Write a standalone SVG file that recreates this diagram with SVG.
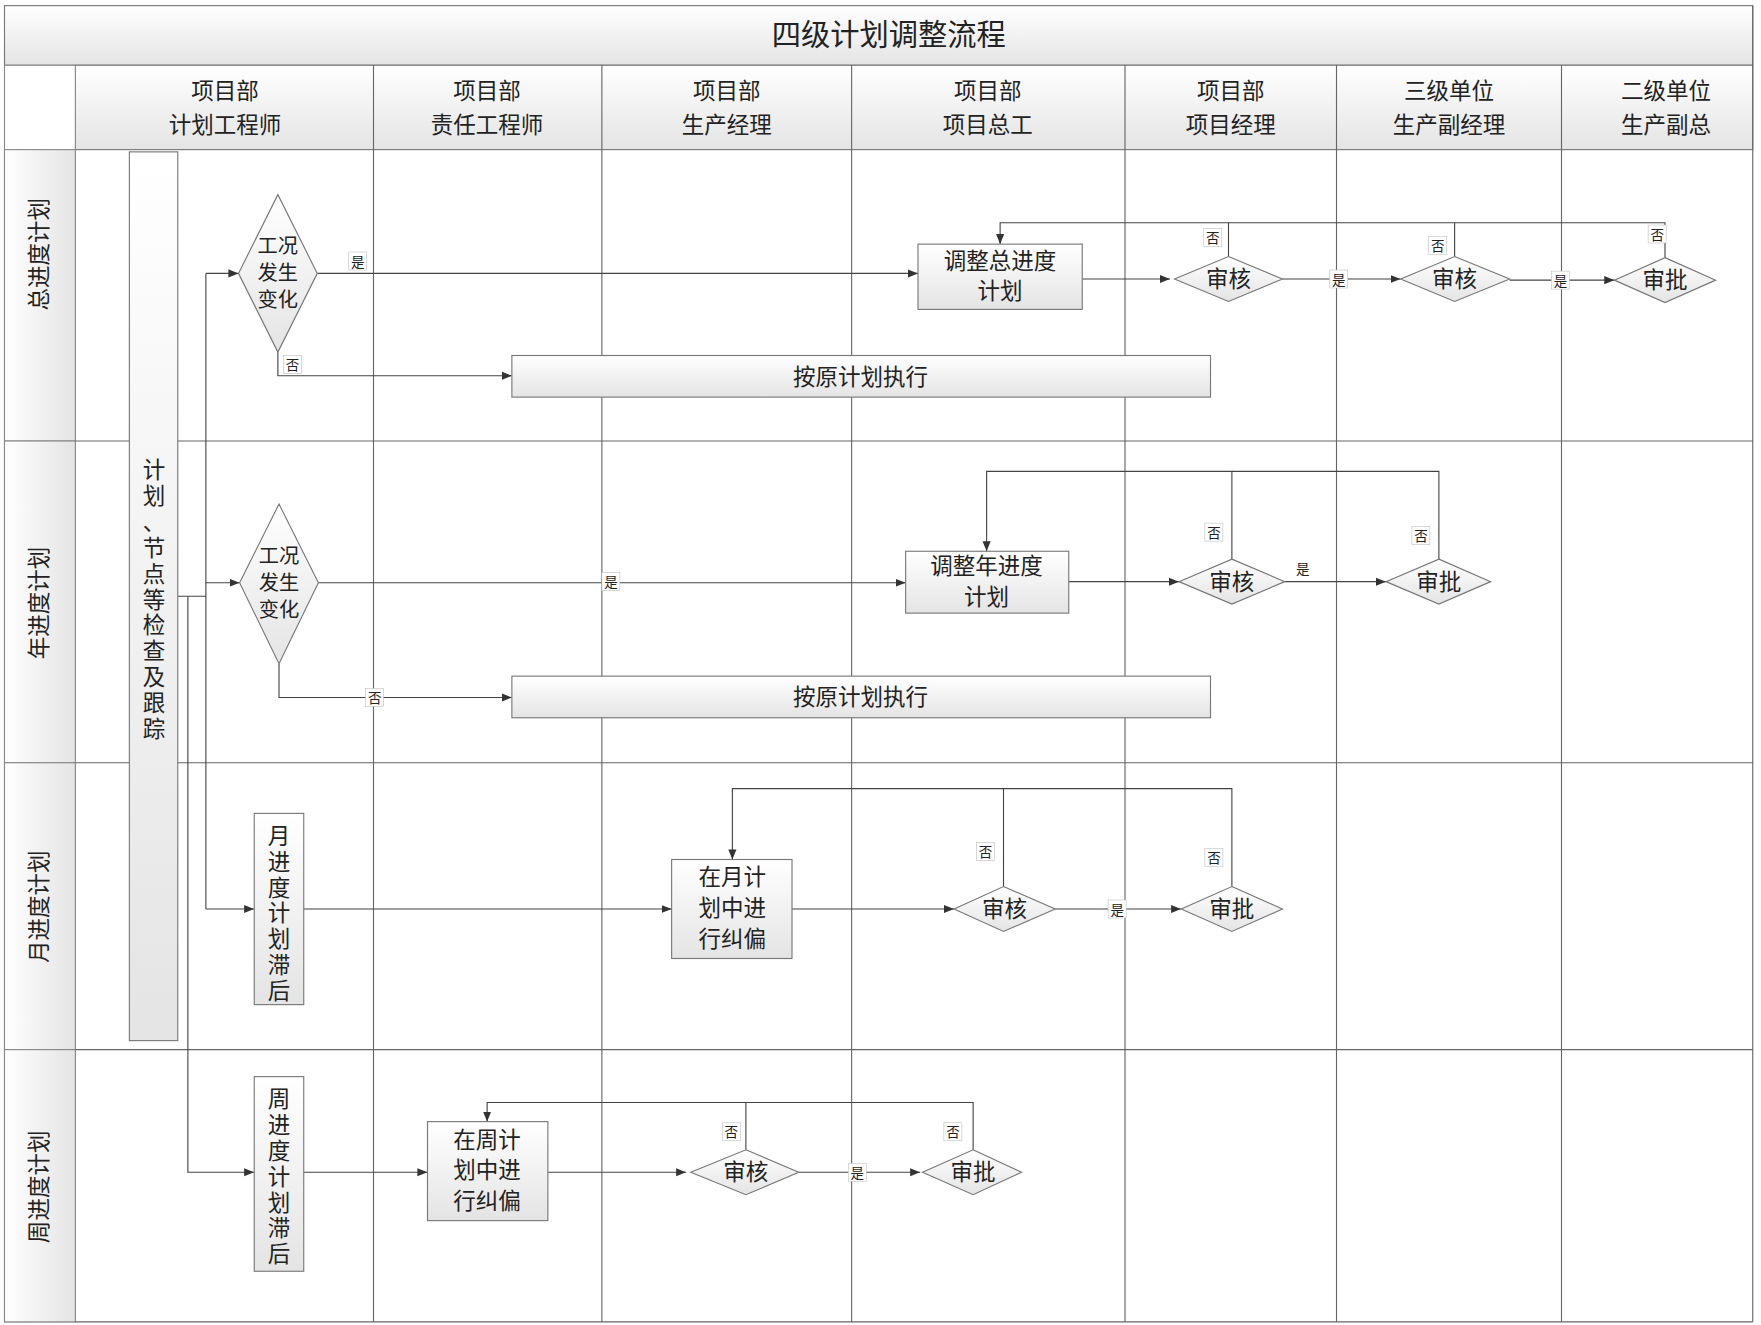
<svg xmlns="http://www.w3.org/2000/svg" width="1761" height="1325" viewBox="0 0 1761 1325">
<defs>
<linearGradient id="g" x1="0" y1="0" x2="0" y2="1"><stop offset="0" stop-color="#ffffff"/><stop offset="1" stop-color="#e4e4e4"/></linearGradient>
<linearGradient id="gh" x1="0" y1="0" x2="1" y2="0"><stop offset="0" stop-color="#ffffff"/><stop offset="1" stop-color="#e4e4e4"/></linearGradient>
<marker id="a" viewBox="0 0 10 10" refX="10" refY="5" markerWidth="9" markerHeight="9" orient="auto" markerUnits="userSpaceOnUse"><path d="M0,1 L10,5 L0,9 z" fill="#333"/></marker>
<style>
text{font-family:"Liberation Serif","Noto Sans CJK SC",serif;fill:#222}
.grid{stroke:#666;stroke-width:1;fill:none}
.box{fill:url(#g);stroke:#777;stroke-width:1}
.lane{fill:url(#gh);stroke:#888;stroke-width:1}
.c{stroke:#444;stroke-width:1;fill:none}
.ar{marker-end:url(#a)}
.t{font-size:20px;text-anchor:middle}
.s{font-size:12px;text-anchor:middle}
.lb{fill:#fff;stroke:#bbb;stroke-width:0.5}
</style>
</defs>
<rect width="1761" height="1325" fill="#fff"/>
<g transform="scale(1.125)">
<g id="frame">
<rect x="4" y="5" width="1554" height="53" class="box"/>
<text x="790" y="40" style="font-size:26px;text-anchor:middle">四级计划调整流程</text>
<rect x="67" y="58" width="1491" height="75" class="box"/>
<rect x="4" y="58" width="63" height="1117" fill="#fff" stroke="#888"/>
<rect x="4" y="133" width="63" height="259" class="lane"/>
<rect x="4" y="392" width="63" height="286" class="lane"/>
<rect x="4" y="678" width="63" height="255" class="lane"/>
<rect x="4" y="933" width="63" height="242" class="lane"/>
<path class="grid" d="M332,58V1175M535,58V1175M757,58V1175M1000,58V1175M1188,58V1175M1388,58V1175M67,392H1558M67,678H1558M67,933H1558M67,1175H1558M1558,5V1175"/>
<g class="t">
<text x="200" y="88">项目部</text><text x="200" y="118">计划工程师</text>
<text x="433" y="88">项目部</text><text x="433" y="118">责任工程师</text>
<text x="646" y="88">项目部</text><text x="646" y="118">生产经理</text>
<text x="878" y="88">项目部</text><text x="878" y="118">项目总工</text>
<text x="1094" y="88">项目部</text><text x="1094" y="118">项目经理</text>
<text x="1288" y="88">三级单位</text><text x="1288" y="118">生产副经理</text>
<text x="1481" y="88">二级单位</text><text x="1481" y="118">生产副总</text>
</g>
<text class="t" transform="translate(42,226) rotate(-90)">总进度计划</text>
<text class="t" transform="translate(42,536) rotate(-90)">年进度计划</text>
<text class="t" transform="translate(42,806) rotate(-90)">月进度计划</text>
<text class="t" transform="translate(42,1055) rotate(-90)">周进度计划</text>
</g>
<g id="connectors">
<path class="c" d="M158,530H183M183,243V808"/>
<path class="c ar" d="M183,243H212"/>
<path class="c ar" d="M183,518H213"/>
<path class="c ar" d="M183,808H226"/>
<path class="c ar" d="M167,530V1042H226"/>
<path class="c ar" d="M282,243H816"/>
<path class="c ar" d="M247,313V334H455"/>
<path class="c ar" d="M962,248H1040"/>
<path class="c ar" d="M1140,248H1245"/>
<path class="c ar" d="M1342,249H1435"/>
<path class="c ar" d="M1480,229V198H889V217"/>
<path class="c" d="M1293,228V198M1092,228V198"/>
<path class="c ar" d="M283,518H805"/>
<path class="c ar" d="M248,590V620H455"/>
<path class="c ar" d="M950,517H1048"/>
<path class="c ar" d="M1142,517H1232"/>
<path class="c ar" d="M1095,497V419H877V490"/>
<path class="c" d="M1279,497V419H1095"/>
<path class="c ar" d="M270,808H597"/>
<path class="c ar" d="M704,808H848"/>
<path class="c ar" d="M938,808H1050"/>
<path class="c ar" d="M892,788V701H651V764"/>
<path class="c" d="M1095,788V701H892"/>
<path class="c ar" d="M270,1042H380"/>
<path class="c ar" d="M487,1042H610"/>
<path class="c ar" d="M710,1042H818"/>
<path class="c ar" d="M663,1022V980H433V997"/>
<path class="c" d="M865,1022V980H663"/>
<g>
<rect x="310" y="224" width="16" height="16" class="lb"/><text x="318" y="237" class="s">是</text>
<rect x="252" y="316" width="16" height="16" class="lb"/><text x="260" y="329" class="s">否</text>
<rect x="1070" y="203" width="16" height="16" class="lb"/><text x="1078" y="216" class="s">否</text>
<rect x="1270" y="210" width="16" height="16" class="lb"/><text x="1278" y="223" class="s">否</text>
<rect x="1465" y="200" width="16" height="16" class="lb"/><text x="1473" y="213" class="s">否</text>
<rect x="1182" y="240" width="16" height="16" class="lb"/><text x="1190" y="253" class="s">是</text>
<rect x="1379" y="241" width="16" height="16" class="lb"/><text x="1387" y="254" class="s">是</text>
<rect x="535" y="509" width="16" height="16" class="lb"/><text x="543" y="522" class="s">是</text>
<rect x="325" y="612" width="16" height="16" class="lb"/><text x="333" y="625" class="s">否</text>
<rect x="1071" y="465" width="16" height="16" class="lb"/><text x="1079" y="478" class="s">否</text>
<rect x="1255" y="468" width="16" height="16" class="lb"/><text x="1263" y="481" class="s">否</text>
<text x="1158" y="510" class="s">是</text>
<rect x="868" y="749" width="16" height="16" class="lb"/><text x="876" y="762" class="s">否</text>
<rect x="1071" y="754" width="16" height="16" class="lb"/><text x="1079" y="767" class="s">否</text>
<rect x="985" y="800" width="16" height="16" class="lb"/><text x="993" y="813" class="s">是</text>
<rect x="642" y="998" width="16" height="16" class="lb"/><text x="650" y="1011" class="s">否</text>
<rect x="839" y="998" width="16" height="16" class="lb"/><text x="847" y="1011" class="s">否</text>
<rect x="754" y="1034" width="16" height="16" class="lb"/><text x="762" y="1047" class="s">是</text>
</g>
</g>
<g id="track"><rect x="115" y="135" width="43" height="790" class="box"/>
<text class="t"><tspan x="137" y="425">计</tspan><tspan x="137" y="448">划</tspan><tspan x="137" y="471">、</tspan><tspan x="137" y="494">节</tspan><tspan x="137" y="517">点</tspan><tspan x="137" y="540">等</tspan><tspan x="137" y="563">检</tspan><tspan x="137" y="586">查</tspan><tspan x="137" y="609">及</tspan><tspan x="137" y="632">跟</tspan><tspan x="137" y="655">踪</tspan></text></g>
<g id="d1"><path d="M247,173L282,243L247,313L212,243Z" class="box"/><text class="t" style="font-size:18px"><tspan x="247" y="225">工况</tspan><tspan x="247" y="249">发生</tspan><tspan x="247" y="273">变化</tspan></text></g>
<g id="b1"><rect x="816" y="217" width="146" height="58" class="box"/><text class="t"><tspan x="889" y="239">调整总进度</tspan><tspan x="889" y="266">计划</tspan></text></g>
<g id="r1a"><path d="M1092,228L1140,248L1092,268L1044,248Z" class="box"/><text x="1092" y="255" class="t">审核</text></g>
<g id="r1b"><path d="M1293,228L1342,248L1293,268L1245,248Z" class="box"/><text x="1293" y="255" class="t">审核</text></g>
<g id="r1c"><path d="M1480,229L1525,249L1480,269L1435,249Z" class="box"/><text x="1480" y="256" class="t">审批</text></g>
<g id="e1"><rect x="455" y="316" width="621" height="37" class="box"/><text x="765" y="342" class="t">按原计划执行</text></g>
<g id="d2"><path d="M248,448L283,518L248,590L213,518Z" class="box"/><text class="t" style="font-size:18px"><tspan x="248" y="500">工况</tspan><tspan x="248" y="524">发生</tspan><tspan x="248" y="548">变化</tspan></text></g>
<g id="b2"><rect x="805" y="490" width="145" height="55" class="box"/><text class="t"><tspan x="877" y="510">调整年进度</tspan><tspan x="877" y="538">计划</tspan></text></g>
<g id="r2a"><path d="M1095,497L1142,517L1095,537L1048,517Z" class="box"/><text x="1095" y="524" class="t">审核</text></g>
<g id="r2b"><path d="M1279,497L1325,517L1279,537L1232,517Z" class="box"/><text x="1279" y="524" class="t">审批</text></g>
<g id="e2"><rect x="455" y="601" width="621" height="37" class="box"/><text x="765" y="627" class="t">按原计划执行</text></g>
<g id="m1"><rect x="226" y="723" width="44" height="170" class="box"/><text class="t"><tspan x="248" y="750">月</tspan><tspan x="248" y="773">进</tspan><tspan x="248" y="796">度</tspan><tspan x="248" y="819">计</tspan><tspan x="248" y="842">划</tspan><tspan x="248" y="865">滞</tspan><tspan x="248" y="888">后</tspan></text></g>
<g id="m2"><rect x="597" y="764" width="107" height="88" class="box"/><text class="t"><tspan x="651" y="787">在月计</tspan><tspan x="651" y="814">划中进</tspan><tspan x="651" y="842">行纠偏</tspan></text></g>
<g id="m3"><path d="M892,788L938,808L892,828L848,808Z" class="box"/><text x="893" y="815" class="t">审核</text></g>
<g id="m4"><path d="M1095,788L1140,808L1095,828L1050,808Z" class="box"/><text x="1095" y="815" class="t">审批</text></g>
<g id="w1"><rect x="226" y="957" width="44" height="173" class="box"/><text class="t"><tspan x="248" y="984">周</tspan><tspan x="248" y="1007">进</tspan><tspan x="248" y="1030">度</tspan><tspan x="248" y="1053">计</tspan><tspan x="248" y="1076">划</tspan><tspan x="248" y="1099">滞</tspan><tspan x="248" y="1122">后</tspan></text></g>
<g id="w2"><rect x="380" y="997" width="107" height="88" class="box"/><text class="t"><tspan x="433" y="1020">在周计</tspan><tspan x="433" y="1047">划中进</tspan><tspan x="433" y="1075">行纠偏</tspan></text></g>
<g id="w3"><path d="M663,1022L710,1042L663,1062L614,1042Z" class="box"/><text x="663" y="1049" class="t">审核</text></g>
<g id="w4"><path d="M865,1022L908,1042L865,1062L820,1042Z" class="box"/><text x="865" y="1049" class="t">审批</text></g>
</g>
</svg>
